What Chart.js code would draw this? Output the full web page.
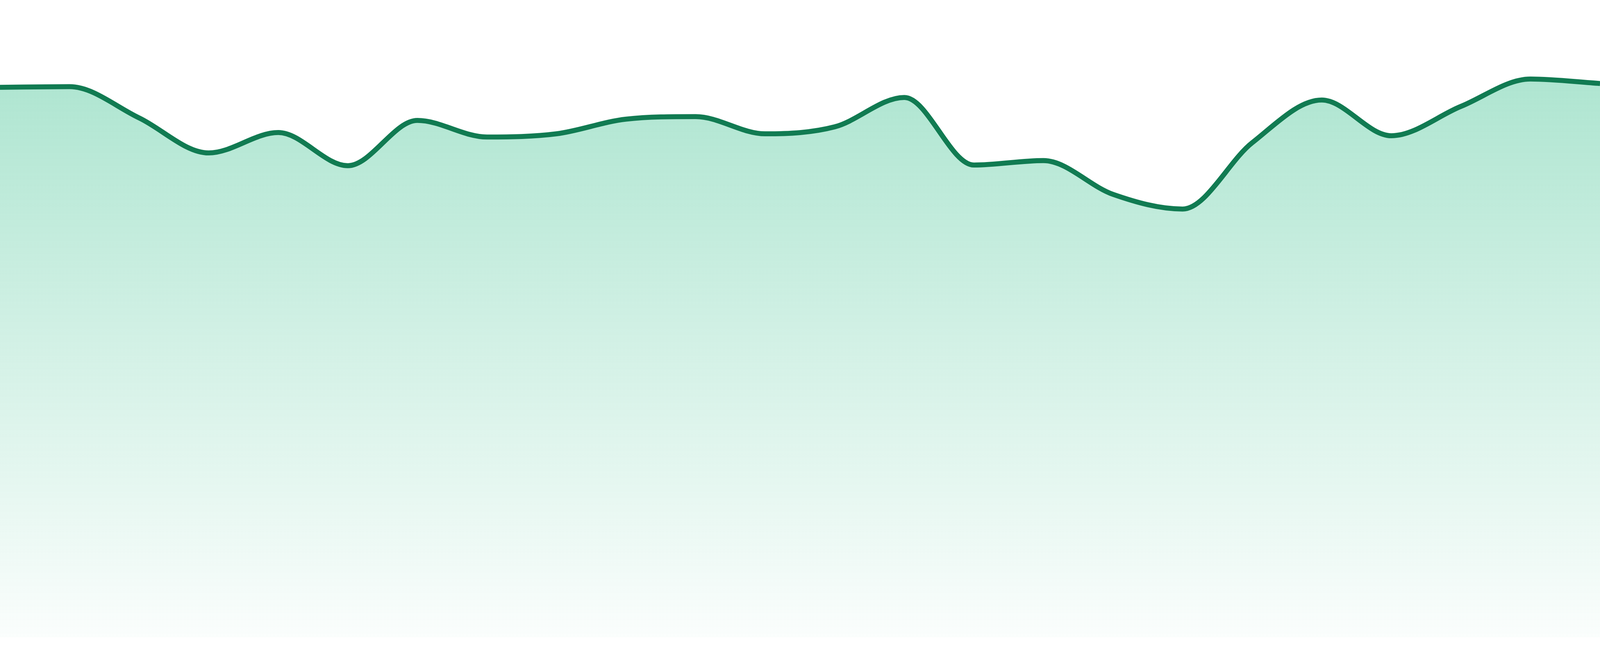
<!DOCTYPE html>
<html>
<head>
<meta charset="utf-8">
<title>Area trend</title>
<script src="https://cdn.jsdelivr.net/npm/chart.js@4/dist/chart.umd.min.js"></script>
<style>
  html, body { margin: 0; padding: 0; width: 100%; height: 100%; overflow: hidden; background: #fff; }
  #wrap { position: fixed; left: 0; top: 0; width: 100vw; height: 100vh; }
  #trendChart { display: block; }
</style>
</head>
<body>
<div id="wrap"><canvas id="trendChart"></canvas></div>
<script>
// 24 samples
const labels = [
    "1", "2", "3", "4", "5", "6", "7", "8", "9", "10", "11", "12",
    "13", "14", "15", "16", "17", "18", "19", "20", "21", "22", "23", "24"
];
const values = [
    86.3, 86.4, 81.5, 76.0, 79.2, 74.0, 81.1, 78.5, 79.0, 81.3, 81.7, 79.0,
    80.1, 84.7, 74.1, 74.8, 69.5, 67.2, 77.6, 84.3, 78.7, 83.3, 87.6, 86.9
];
const yMin = 0;
const yMax = 100;

const lineColor = "#117b52";

// reference was drawn on a 4800 x 1680 page, keep proportions if the viewport differs
const sx = window.innerWidth / 4800;
const sy = window.innerHeight / 1680;

// vertical fade under the line
function fillGradient(context) {
    const chart = context.chart;
    const area = chart.chartArea;
    if (!area) return "rgba(16, 185, 129, 0.2)";
    const g = chart.ctx.createLinearGradient(0, area.top, 0, area.bottom);
    g.addColorStop(0, "rgba(20, 180, 120, 0.39)");
    g.addColorStop(1, "rgba(20, 180, 120, 0.02)");
    return g;
}

const ctx = document.getElementById("trendChart").getContext("2d");
new Chart(ctx, {
    type: "line",
    data: {
        labels: labels,
        datasets: [{
            data: values,
            borderColor: lineColor,
            borderWidth: Math.max(2, 15 * Math.min(sx, sy)),
            backgroundColor: fillGradient,
            fill: "start",
            pointRadius: 0,
            pointHoverRadius: 0,
            cubicInterpolationMode: "monotone"
        }]
    },
    options: {
        responsive: true,
        maintainAspectRatio: false,
        animation: false,
        layout: { padding: { top: 0, left: 0, right: 0, bottom: Math.round(48 * sy) } },
        plugins: {
            legend: { display: false },
            tooltip: { enabled: false }
        },
        scales: {
            x: { display: false, offset: false },
            y: { display: false, min: yMin, max: yMax }
        }
    }
});
</script>
</body>
</html>
